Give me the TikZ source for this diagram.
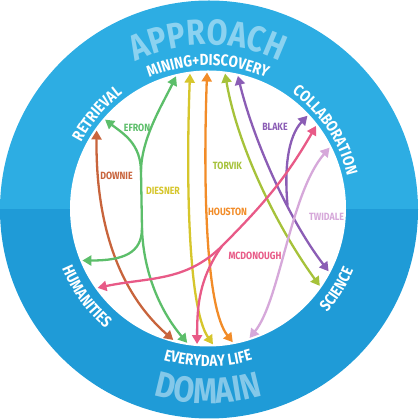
\documentclass[tikz,border=0pt]{standalone}
\usepackage{fontspec}
\setmainfont{Fira Sans}
\newfontfamily\wheelfont[FakeStretch=0.84]{Fira Sans}
\usetikzlibrary{arrows.meta, decorations.text}

\definecolor{ringtop}{RGB}{45,173,227}
\definecolor{ringbot}{RGB}{31,155,215}
\definecolor{downie}{RGB}{200,100,60}
\definecolor{efron}{RGB}{92,190,106}
\definecolor{diesner}{RGB}{214,198,44}
\definecolor{houston}{RGB}{242,140,40}
\definecolor{torvik}{RGB}{166,194,58}
\definecolor{blake}{RGB}{139,93,181}
\definecolor{mcdonough}{RGB}{232,90,135}
\definecolor{twidale}{RGB}{214,168,218}

\begin{document}
\begin{tikzpicture}[
  x=1pt, y=1pt,
  every node/.style={font=\wheelfont\bfseries\fontsize{10.5}{12}\selectfont},
  link/.style={line width=2.3pt, draw=#1,
    {Triangle[length=9pt,width=10pt]}-{Triangle[length=9pt,width=10pt]}},
  branch/.style={line width=2.3pt, draw=#1, -{Triangle[length=9pt,width=10pt]}},
  who/.style={text=#1},
  ringword/.style={decorate, decoration={text along path, text align=center,
    text color=white, text={|\wheelfont\bfseries\fontsize{16}{18}\selectfont|#1}}},
  bigword/.style 2 args={decorate, decoration={text along path, text align=center,
    text color=#2, text={|\wheelfont\bfseries\fontsize{36}{40}\selectfont|#1}}}
]
\useasboundingbox (-208,-210.5) rectangle (212,208.5);

% ===== RING =====
\begin{scope}
  \clip (1,-1) circle[radius=209];
  \fill[ringtop] (-215,-0.5) rectangle (215,215);
  \fill[ringbot] (-215,-0.5) rectangle (215,-215);
\end{scope}
\fill[white] (0,0) circle[radius=138];

% ===== RING WORDS =====
\path[bigword={APPROACH}{white!45!ringtop}] (125:163.5) arc[start angle=125, end angle=55, radius=163.5];
\path[bigword={DOMAIN}{white!45!ringbot}] (235:195) arc[start angle=235, end angle=305, radius=195];
\path[ringword={MINING+DISCOVERY}] (135:143) arc[start angle=135, end angle=45, radius=143];
\path[ringword={RETRIEVAL}] (179.5:143) arc[start angle=179.5, end angle=99.5, radius=143];
\path[ringword={COLLABORATION}] (78.7:143) arc[start angle=78.7, end angle=-11.3, radius=143];
\path[ringword={HUMANITIES}] (171:158) arc[start angle=171, end angle=261, radius=158];
\path[ringword={EVERYDAY LIFE}] (225:158) arc[start angle=225, end angle=315, radius=158];
\path[ringword={SCIENCE}] (283:158) arc[start angle=283, end angle=373, radius=158];

% ===== END POINTS =====
% mining+discovery
\coordinate (efT) at (103.6:136);
\coordinate (diT) at (97.6:136);
\coordinate (hoT) at (90.4:136);
\coordinate (toT) at (82.8:136);
\coordinate (blT) at (77.3:136);
% retrieval, humanities
\coordinate (efR) at (139.2:136);
\coordinate (doT) at (145:136);
\coordinate (efH) at (202.5:136);
\coordinate (mcH) at (215.7:136);
% collaboration, science
\coordinate (blC) at (43:136);
\coordinate (mcC) at (37.4:136);
\coordinate (twC) at (26.6:136);
\coordinate (blS) at (-27.5:136);
\coordinate (toS) at (-34.7:136);
% everyday life
\coordinate (doB) at (255.2:136);
\coordinate (efB) at (261.2:136);
\coordinate (mcB) at (265.4:136);
\coordinate (diB) at (272.1:136);
\coordinate (hoB) at (280.5:136);
\coordinate (twB) at (287.8:136);
% junctions
\coordinate (efJ1) at (-67,36.5);
\coordinate (efJ2) at (-66,-19.5);
\coordinate (mcK) at (14,-37.5);

% ===== LINKS =====
\draw[link=downie] (doT) .. controls (-112,20) and (-105,-70) .. (doB);
\draw[link=efron] (efB) .. controls (-50,-100) and (-65,-60) .. (efJ2) -- (efJ1)
  .. controls (-67,70) and (-45,105) .. (efT);
\draw[branch=efron] (efJ1) .. controls (-67,65) and (-85,75) .. (efR);
\draw[branch=efron] (efJ2) .. controls (-66,-45) and (-85,-52) .. (efH);
\draw[link=diesner] (diT) .. controls (-22,30) and (-20,-100) .. (diB);
\draw[link=houston] (hoT) .. controls (-5,20) and (-2,-100) .. (hoB);
\draw[link=torvik] (toT) .. controls (30,60) and (70,-20) .. (toS);
\draw[link=blake] (blT) .. controls (45,70) and (80,-10) .. (blS) coordinate[pos=0.64] (blJ);
\draw[branch=blake] (blJ) .. controls (76,40) and (80,72) .. (blC);
\draw[link=twidale] (twC) .. controls (82,15) and (72,-92) .. (twB);
\draw[link=mcdonough] (mcC) to[out=240, in=45] (mcK) to[out=225, in=12] (mcH);
\draw[branch=mcdonough] (mcK) to[out=235, in=90] (mcB);

% ===== NAMES =====
\node[who=efron] (efron) at (-71,81) {EFRON};
\node[who=downie] (downie) at (-91.5,33) {DOWNIE};
\node[who=diesner] (diesner) at (-45,18) {DIESNER};
\node[who=torvik] (torvik) at (19.5,42.5) {TORVIK};
\node[who=houston] (houston) at (19.5,-3.5) {HOUSTON};
\node[who=mcdonough] (mcdonough) at (47,-47.5) {MCDONOUGH};
\node[who=blake] (blake) at (67,81.5) {BLAKE};
\node[who=twidale] (twidale) at (118.5,-8) {TWIDALE};
\end{tikzpicture}
\end{document}
